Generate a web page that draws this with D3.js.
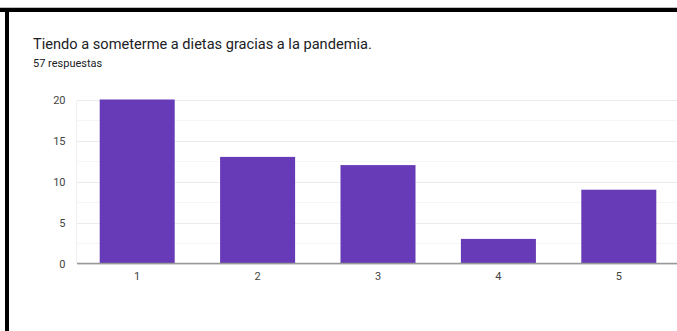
<!DOCTYPE html>
<html>
<head>
<meta charset="utf-8">
<script src="https://cdn.jsdelivr.net/npm/d3@7"></script>
<style>
  html, body { margin: 0; padding: 0; background: #fff; }
  svg { display: block; }
  text { font-family: Roboto, "Noto Sans", Arial, sans-serif; }
</style>
</head>
<body>
<svg id="chart" width="677" height="331"></svg>
<script>
// Survey answers on a 1–5 scale and how many people chose each
const categories = ["1", "2", "3", "4", "5"];
const counts = [20, 13, 12, 3, 9];
const yTicks = [0, 5, 10, 15, 20];
const yGrid = [0, 2.5, 5, 7.5, 10, 12.5, 15, 17.5, 20];
const title = "Tiendo a someterme a dietas gracias a la pandemia.";
const subtitle = "57 respuestas";

const W = 677, H = 331;
const svg = d3.select("#chart");

// Frame: dark band along the top and left edges
svg.append("rect").attr("x", 0).attr("y", 7).attr("width", W).attr("height", 1).attr("fill", "#bdbdbd");
svg.append("rect").attr("x", 0).attr("y", 8).attr("width", W).attr("height", 4).attr("fill", "#000");
svg.append("rect").attr("x", 5).attr("y", 8).attr("width", 4).attr("height", H - 8).attr("fill", "#000");

// Heading
svg.append("text")
  .attr("x", 33).attr("y", 49)
  .attr("font-size", 14.6)
  .attr("fill", "#202124")
  .text(title);
svg.append("text")
  .attr("x", 33).attr("y", 67)
  .attr("font-size", 11)
  .attr("fill", "#202124")
  .text(subtitle);

// Scales
const x = d3.scaleBand()
  .domain(categories)
  .range([77, 679])
  .paddingInner(0.377)
  .paddingOuter(0.1885);

const y = d3.scaleLinear()
  .domain([0, 20])
  .range([263.5, 99.5]);

// Gridlines: major every 5, minor halfway between
const grid = svg.append("g");
grid.selectAll("line")
  .data(yGrid)
  .join("line")
  .attr("x1", 77).attr("x2", W)
  .attr("y1", d => Math.round(y(d)) + 0.5)
  .attr("y2", d => Math.round(y(d)) + 0.5)
  .attr("stroke", d => d % 5 === 0 ? "#ebebeb" : "#f5f5f5")
  .attr("stroke-width", 1);
grid.append("line")
  .attr("x1", 76.5).attr("x2", 76.5)
  .attr("y1", Math.round(y(20)) + 0.5).attr("y2", y(0))
  .attr("stroke", "#f0f0f0");

// Bars
svg.append("g")
  .selectAll("rect")
  .data(counts)
  .join("rect")
  .attr("x", (d, i) => x(categories[i]))
  .attr("width", x.bandwidth())
  .attr("y", d => y(d))
  .attr("height", d => y(0) - y(d))
  .attr("fill", "#673ab7");

// Baseline
svg.append("line")
  .attr("x1", 77).attr("x2", W)
  .attr("y1", y(0)).attr("y2", y(0))
  .attr("stroke", "#999")
  .attr("stroke-width", 1.5);

// Y axis labels
const yAxis = svg.append("g")
  .attr("transform", "translate(65.5,0)")
  .call(d3.axisLeft(y).tickValues(yTicks).tickSize(0).tickPadding(0));
yAxis.select(".domain").remove();
yAxis.selectAll("text")
  .attr("font-family", "Roboto, 'Noto Sans', Arial, sans-serif")
  .attr("font-size", 11)
  .attr("fill", "#444");

// X axis labels
const xAxis = svg.append("g")
  .attr("transform", `translate(0,${y(0)})`)
  .call(d3.axisBottom(x).tickSize(0).tickPadding(9));
xAxis.select(".domain").remove();
xAxis.selectAll("text")
  .attr("font-family", "Roboto, 'Noto Sans', Arial, sans-serif")
  .attr("font-size", 11)
  .attr("fill", "#444");
</script>
</body>
</html>
